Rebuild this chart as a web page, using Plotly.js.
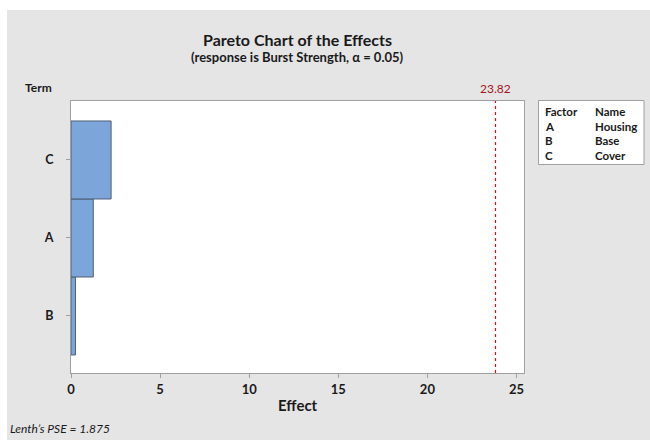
<!DOCTYPE html>
<html>
<head>
<meta charset="utf-8">
<script src="https://cdn.plot.ly/plotly-3.0.1.min.js"></script>
<style>
  html, body { margin: 0; padding: 0; background: #ffffff; width: 650px; height: 440px; overflow: hidden; }
  #chart { position: absolute; left: 7px; top: 10px; width: 643px; height: 430px; }
</style>
</head>
<body>
<div id="chart"></div>
<script>
// ---- data ----
const terms = ["B", "A", "C"];            // bottom to top
const effects = [0.25, 1.25, 2.25];
const criticalValue = 23.82;
const xTicks = [0, 5, 10, 15, 20, 25];
const factorCodes = ["A", "B", "C"];
const factorNames = ["Housing", "Base", "Cover"];
const titleText = "Pareto Chart of the Effects";
const subtitleText = "(response is Burst Strength, \u03b1 = 0.05)";
const pseText = "Lenth\u2019s PSE = 1.875";

// ---- layout geometry (page pixels) ----
const OX = 7, OY = 10;
const L = 64, R = 126, T = 91, B = 67;
const W = 643 - L - R, H = 430 - T - B;
const plotLeft = OX + L, plotBottom = OY + T + H;
const px = x => (x - plotLeft) / W;
const py = y => (plotBottom - y) / H;

const FONT = "Lato, 'Open Sans', sans-serif";
const txt = "#1a1a1a";

const annotations = [
  {text: "<b>" + titleText + "</b>", x: px(297.5), y: py(40), font: {size: 16, color: txt}},
  {text: "<b>" + subtitleText + "</b>", x: px(297.5), y: py(57), font: {size: 13, color: txt}},
  {text: "<b>Term</b>", x: px(23), y: py(88), xanchor: "left", font: {size: 12, color: txt}},
  {text: criticalValue.toFixed(2), x: criticalValue, xref: "x", y: py(89), font: {size: 12, color: "#a3151c"}},
  {text: "<b>Effect</b>", x: px(297.5), y: py(405), font: {size: 15, color: txt}},
  {text: "<i>" + pseText + "</i>", x: px(8), y: py(428), xanchor: "left", font: {size: 12, color: txt}},
  {text: "<b>Factor</b>", x: px(543), y: py(111.5), xanchor: "left", font: {size: 11.5, color: txt}},
  {text: "<b>Name</b>", x: px(593), y: py(111.5), xanchor: "left", font: {size: 11.5, color: txt}}
];
const rowY = [126, 140.5, 155];
factorCodes.forEach((c, i) => {
  annotations.push({text: "<b>" + c + "</b>", x: px(543), y: py(rowY[i]), xanchor: "left", font: {size: 11.5, color: txt}});
  annotations.push({text: "<b>" + factorNames[i] + "</b>", x: px(593), y: py(rowY[i]), xanchor: "left", font: {size: 11.5, color: txt}});
});
annotations.forEach(a => {
  if (!a.xref) a.xref = "paper";
  a.yref = "paper";
  if (!a.xanchor) a.xanchor = "center";
  a.yanchor = "middle";
  a.showarrow = false;
  a.font.family = FONT;
});

const data = [{
  type: "bar",
  orientation: "h",
  x: effects,
  y: [0, 1, 2],
  width: 1,
  marker: {color: "#7ca6da", line: {color: "#4d5f75", width: 1}},
  hoverinfo: "x+y"
}];

const layout = {
  width: 643, height: 430,
  margin: {l: L, r: R, t: T, b: B, pad: 0},
  paper_bgcolor: "#e5e5e5",
  plot_bgcolor: "#ffffff",
  showlegend: false,
  font: {family: FONT, color: txt},
  bargap: 0,
  xaxis: {
    range: [0, 25.42],
    tickvals: xTicks,
    ticktext: xTicks.map(v => "<b>" + v + "</b>"),
    ticks: "outside", ticklen: 4, tickcolor: "#a0a0a0", tickwidth: 1,
    showgrid: false, zeroline: false,
    showline: true, linecolor: "#a0a0a0", linewidth: 1, mirror: true,
    tickfont: {size: 13, color: txt, family: FONT},
    fixedrange: true
  },
  yaxis: {
    range: [-0.731, 2.756],
    tickvals: [0, 1, 2],
    ticktext: terms.map(t => "<b>" + t + "</b>"),
    ticks: "outside", ticklen: 4, tickcolor: "#a0a0a0", tickwidth: 1,
    ticklabelstandoff: 10,
    showgrid: false, zeroline: false,
    showline: true, linecolor: "#a0a0a0", linewidth: 1, mirror: true,
    tickfont: {size: 12.5, color: txt, family: FONT},
    fixedrange: true
  },
  shapes: [
    {type: "line", xref: "x", yref: "paper", x0: criticalValue, x1: criticalValue, y0: 0, y1: 1,
     line: {color: "#ff0000", width: 1.2, dash: "dot"}},
    {type: "rect", xref: "paper", yref: "paper", x0: px(538.5), x1: px(644), y0: py(100.5), y1: py(164.5),
     fillcolor: "#ffffff", line: {color: "#a0a0a0", width: 1}}
  ],
  annotations: annotations
};

Plotly.newPlot("chart", data, layout, {displayModeBar: false, staticPlot: true});
</script>
</body>
</html>
